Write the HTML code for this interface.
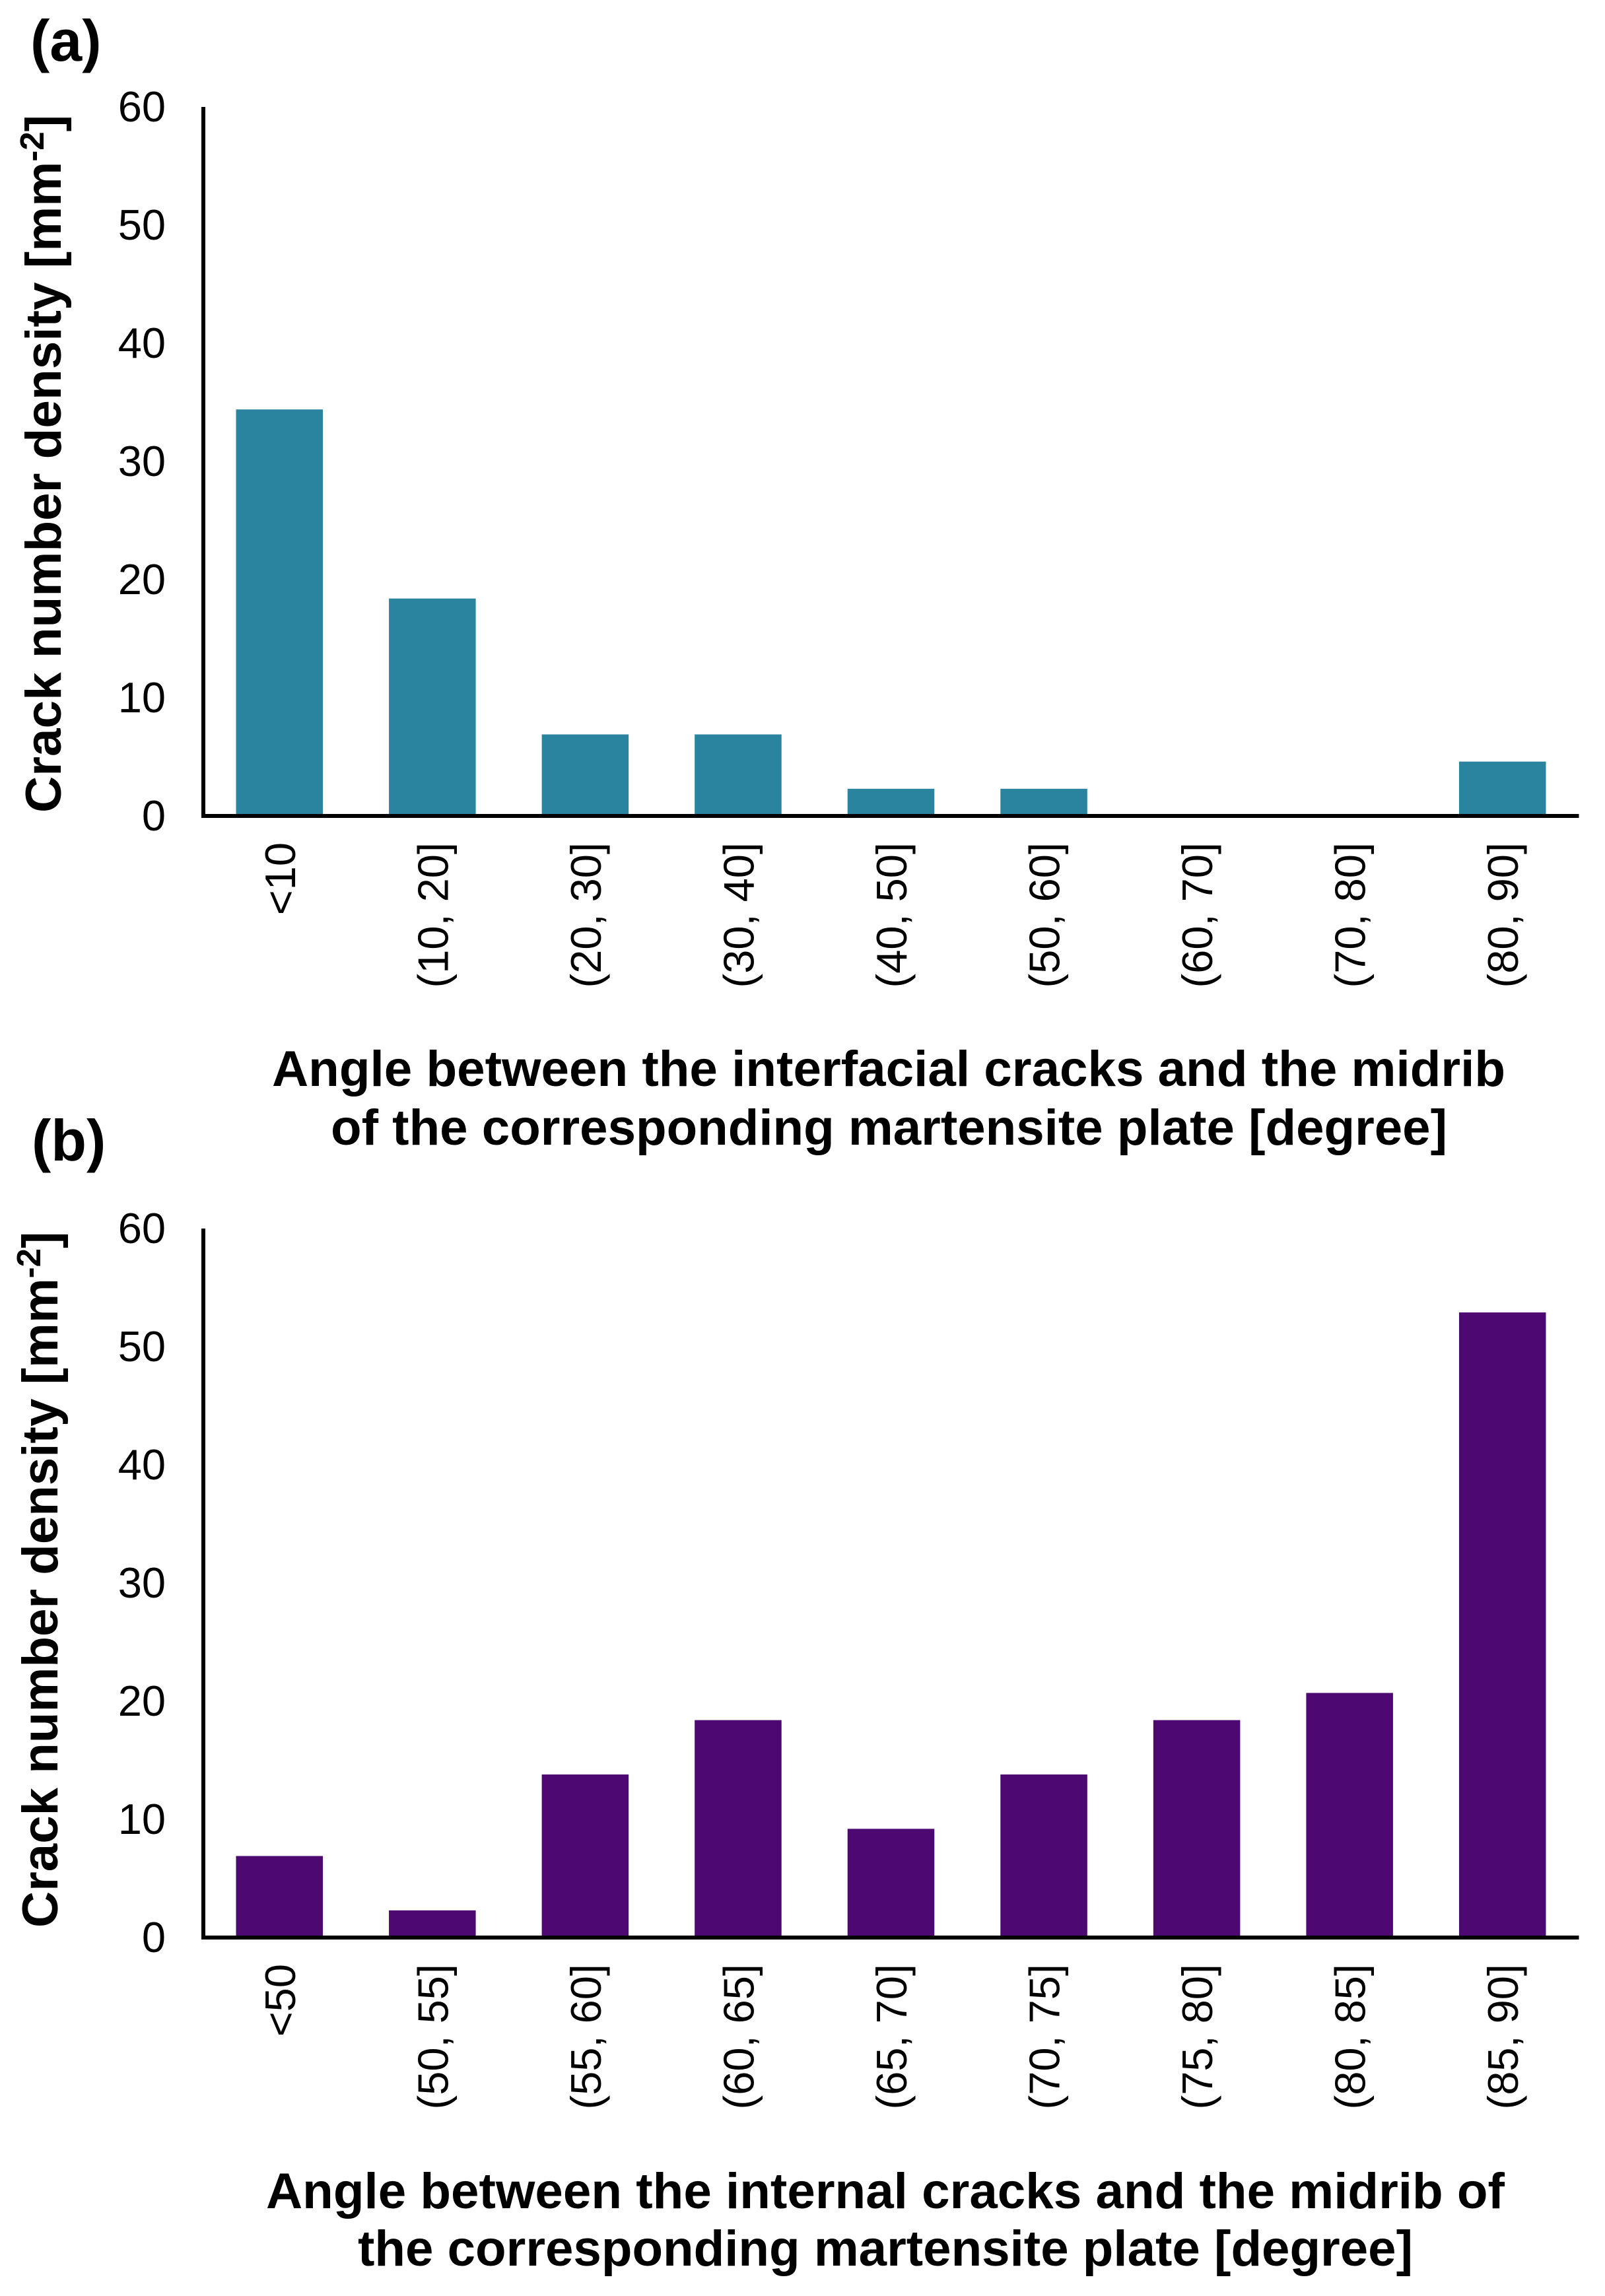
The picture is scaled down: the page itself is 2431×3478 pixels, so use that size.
<!DOCTYPE html>
<html lang="en">
<head>
<meta charset="utf-8">
<title>Crack number density charts</title>
<style>
html,body{margin:0;padding:0;background:#fff;}
svg{display:block;}
text{font-family:"Liberation Sans",Arial,sans-serif;fill:#000;}
.tick{font-size:65px;}
.title{font-size:76px;font-weight:bold;}
.ytitle-a{font-size:76.5px;font-weight:bold;}
.ytitle-b{font-size:76.3px;font-weight:bold;}
.panel{font-size:88px;font-weight:bold;}
</style>
</head>
<body>
<svg id="figure" xmlns="http://www.w3.org/2000/svg" width="2431" height="3478" viewBox="0 0 2431 3478">
  <rect x="0" y="0" width="2431" height="3478" fill="#ffffff"/>

  <text class="panel" x="46" y="92">(a)</text>
  <text class="panel" x="48" y="1758">(b)</text>

  <g id="chart-a"></g>
  <g id="chart-b"></g>

  <text class="ytitle-a" x="92" y="1231" transform="rotate(-90 92 1231)">Crack number density [mm<tspan font-size="51" dy="-26">-2</tspan><tspan dy="26">]</tspan></text>
  <text class="ytitle-b" x="87" y="2920" transform="rotate(-90 87 2920)">Crack number density [mm<tspan font-size="51" dy="-26">-2</tspan><tspan dy="26">]</tspan></text>

  <text class="title" x="412" y="1645" textLength="1868" lengthAdjust="spacingAndGlyphs">Angle between the interfacial cracks and the midrib</text>
  <text class="title" x="501" y="1734" textLength="1691" lengthAdjust="spacingAndGlyphs">of the corresponding martensite plate [degree]</text>
  <text class="title" x="403" y="3345" textLength="1876" lengthAdjust="spacingAndGlyphs">Angle between the internal cracks and the midrib of</text>
  <text class="title" x="542" y="3432" textLength="1598" lengthAdjust="spacingAndGlyphs">the corresponding martensite plate [degree]</text>
</svg>

<script>
var yTicks = [0, 10, 20, 30, 40, 50, 60];
var categoriesA = ["<10", "(10, 20]", "(20, 30]", "(30, 40]", "(40, 50]", "(50, 60]", "(60, 70]", "(70, 80]", "(80, 90]"];
var valuesA = [34.4, 18.4, 6.9, 6.9, 2.3, 2.3, 0, 0, 4.6];
var categoriesB = ["<50", "(50, 55]", "(55, 60]", "(60, 65]", "(65, 70]", "(70, 75]", "(75, 80]", "(80, 85]", "(85, 90]"];
var valuesB = [6.9, 2.3, 13.8, 18.4, 9.2, 13.8, 18.4, 20.7, 52.9];

var SVG_NS = "http://www.w3.org/2000/svg";

function drawChart(groupId, categories, values, color, pixelTop, pixelBottom) {
  var group = document.getElementById(groupId);
  var plotLeft = 307.5;
  var plotRight = 2391.5;
  var yMax = yTicks[yTicks.length - 1];
  var band = (plotRight - plotLeft) / categories.length;
  var barWidth = band * 0.568;

  function yScale(v) {
    return pixelBottom - (v / yMax) * (pixelBottom - pixelTop);
  }
  function xCenter(i) {
    return plotLeft + band * (i + 0.5);
  }

  values.forEach(function (v, i) {
    var bar = document.createElementNS(SVG_NS, "rect");
    
    
    bar.setAttribute("x", xCenter(i) - barWidth / 2);
    bar.setAttribute("y", yScale(v));
    bar.setAttribute("width", barWidth);
    bar.setAttribute("height", pixelBottom - yScale(v));
    bar.setAttribute("fill", color);
    group.appendChild(bar);
  });

  var yAxis = document.createElementNS(SVG_NS, "line");
  
  
  yAxis.setAttribute("x1", plotLeft + 0.5);
  yAxis.setAttribute("x2", plotLeft + 0.5);
  yAxis.setAttribute("y1", pixelTop);
  yAxis.setAttribute("y2", pixelBottom + 3);
  yAxis.setAttribute("stroke", "#000");
  yAxis.setAttribute("stroke-width", 6);
  group.appendChild(yAxis);

  var xAxis = document.createElementNS(SVG_NS, "line");
  
  
  xAxis.setAttribute("x1", plotLeft - 2.5);
  xAxis.setAttribute("x2", plotRight);
  xAxis.setAttribute("y1", pixelBottom);
  xAxis.setAttribute("y2", pixelBottom);
  xAxis.setAttribute("stroke", "#000");
  xAxis.setAttribute("stroke-width", 6);
  group.appendChild(xAxis);

  yTicks.forEach(function (t) {
    var label = document.createElementNS(SVG_NS, "text");
    
    
    label.setAttribute("class", "tick");
    label.setAttribute("x", 251);
    label.setAttribute("y", yScale(t) + 22);
    label.setAttribute("text-anchor", "end");
    label.textContent = t;
    group.appendChild(label);
  });

  categories.forEach(function (c, i) {
    var px = xCenter(i) + 23.5;
    var py = pixelBottom + 40;
    var label = document.createElementNS(SVG_NS, "text");
    
    
    label.setAttribute("class", "tick");
    label.setAttribute("x", px);
    label.setAttribute("y", py);
    label.setAttribute("text-anchor", "end");
    label.setAttribute("transform", "rotate(-90 " + px + " " + py + ")");
    label.textContent = c;
    group.appendChild(label);
  });
}

drawChart("chart-a", categoriesA, valuesA, "#2a84a0", 162, 1236);
drawChart("chart-b", categoriesB, valuesB, "#4e0872", 1861, 2935);
</script>
</body>
</html>
